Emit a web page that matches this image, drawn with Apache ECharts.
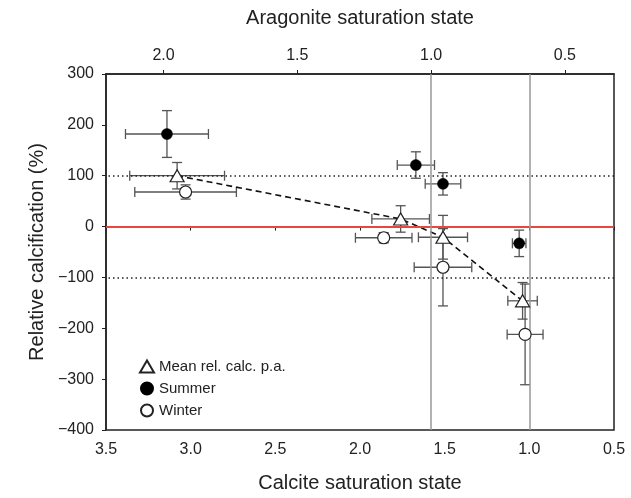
<!DOCTYPE html>
<html>
<head>
<meta charset="utf-8">
<script src="https://cdn.jsdelivr.net/npm/echarts@6/dist/echarts.min.js"></script>
<style>
  html, body { margin: 0; padding: 0; background: #fff; }
  #chart { width: 631px; height: 498px; }
</style>
</head>
<body>
<div id="chart"></div>
<script>
// calcite saturation state (x) and relative calcification % (y), with errors
const meanX    = [3.08, 1.76, 1.51, 1.04];
const meanY    = [100, 15, -21, -146];
const meanXErr = [0.28, 0.17, 0.145, 0.087];
const meanYErr = [26, 26, 43, 36];

const summerX    = [3.14, 1.67, 1.51, 1.06];
const summerY    = [182, 121, 84, -33];
const summerXErr = [0.245, 0.11, 0.105, 0.04];
const summerYErr = [46, 26, 22, 26];

const winterX    = [3.03, 1.86, 1.51, 1.025];
const winterY    = [68, -22, -80, -212];
const winterXErr = [0.30, 0.167, 0.17, 0.106];
const winterYErr = [14, 10, 76, 99];

// calcite / aragonite ratio used for the top axis
const ratio = 1.58;
const aragoniteTicks = [2.0, 1.5, 1.0, 0.5];
const saturationLines = [ratio, 1.0]; // aragonite = 1 and calcite = 1

const FONT = 'Liberation Sans, Arial, Helvetica, sans-serif';
const TXT = '#222';

function pts(xs, ys) { return xs.map((x, i) => [x, ys[i]]); }
function errs(xs, ys, ex, ey) { return xs.map((x, i) => [x, ys[i], ex[i], ey[i]]); }

const errData = errs(meanX, meanY, meanXErr, meanYErr)
  .concat(errs(summerX, summerY, summerXErr, summerYErr))
  .concat(errs(winterX, winterY, winterXErr, winterYErr));

function renderErr(params, api) {
  const x = api.value(0), y = api.value(1), ex = api.value(2), ey = api.value(3);
  const c = api.coord([x, y]);
  const l = api.coord([x + ex, y]);
  const r = api.coord([x - ex, y]);
  const t = api.coord([x, y + ey]);
  const b = api.coord([x, y - ey]);
  const cap = 5;
  const st = { stroke: '#555', lineWidth: 1.3, fill: null };
  const seg = (x1, y1, x2, y2) => ({ type: 'line', shape: { x1, y1, x2, y2 }, style: st });
  return {
    type: 'group',
    children: [
      seg(l[0], c[1], r[0], c[1]),
      seg(l[0], c[1] - cap, l[0], c[1] + cap),
      seg(r[0], c[1] - cap, r[0], c[1] + cap),
      seg(c[0], t[1], c[0], b[1]),
      seg(c[0] - cap, t[1], c[0] + cap, t[1]),
      seg(c[0] - cap, b[1], c[0] + cap, b[1])
    ]
  };
}

const chart = echarts.init(document.getElementById('chart'));
chart.setOption({
  animation: false,
  backgroundColor: '#fff',
  grid: { left: 106, right: 17, top: 74, bottom: 67, show: true, borderColor: '#222', borderWidth: 1.5 },
  legend: {
    data: ['Mean rel. calc. p.a.', 'Summer', 'Winter'],
    orient: 'vertical',
    left: 134, top: 354,
    itemWidth: 14, itemHeight: 12, itemGap: 7,
    textStyle: { fontFamily: FONT, fontSize: 15, color: TXT }
  },
  xAxis: [{
    type: 'value', inverse: true, min: 0.5, max: 3.5, interval: 0.5,
    position: 'bottom',
    name: 'Calcite saturation state', nameLocation: 'middle', nameGap: 43,
    nameTextStyle: { fontFamily: FONT, fontSize: 20, color: TXT },
    axisLine: { lineStyle: { color: '#222', width: 1.5 } },
    axisTick: { show: true, length: 4, lineStyle: { color: '#222' } },
    axisLabel: { fontFamily: FONT, fontSize: 16, color: TXT, margin: 12, formatter: v => v.toFixed(1) },
    splitLine: { show: false }
  }, {
    type: 'value', inverse: true, min: 0.5 / ratio, max: 3.5 / ratio,
    position: 'top',
    name: 'Aragonite saturation state', nameLocation: 'middle', nameGap: 46,
    nameTextStyle: { fontFamily: FONT, fontSize: 20, color: TXT },
    axisLine: { lineStyle: { color: '#222', width: 1.5 } },
    axisTick: { show: true, length: 4, customValues: aragoniteTicks, lineStyle: { color: '#222' } },
    axisLabel: { fontFamily: FONT, fontSize: 16, color: TXT, margin: 10, customValues: aragoniteTicks, formatter: v => v.toFixed(1) },
    splitLine: { show: false }
  }],
  yAxis: {
    type: 'value', min: -400, max: 300, interval: 100,
    name: 'Relative calcification (%)', nameLocation: 'middle', nameGap: 58,
    nameTextStyle: { fontFamily: FONT, fontSize: 20, color: TXT },
    axisLine: { show: true, lineStyle: { color: '#222', width: 1.5 } },
    axisTick: { show: true, length: 4, lineStyle: { color: '#222' } },
    axisLabel: { fontFamily: FONT, fontSize: 16, color: TXT, margin: 12, formatter: v => String(v).replace('-', '\u2212') },
    splitLine: { show: false }
  },
  series: [
    {
      type: 'line', name: 'trend', data: pts(meanX, meanY), symbol: 'none', silent: true, z: 3,
      lineStyle: { color: '#111', width: 1.6, type: [6, 4] },
      markLine: {
        silent: true, symbol: 'none', label: { show: false },
        data: [
          { yAxis: 0, lineStyle: { color: '#e8473e', width: 2, type: 'solid' } },
          { yAxis: 100, lineStyle: { color: '#222', width: 1.5, type: [1.5, 3] } },
          { yAxis: -100, lineStyle: { color: '#222', width: 1.5, type: [1.5, 3] } },
          { xAxis: saturationLines[0], lineStyle: { color: '#999', width: 1.5, type: 'solid' } },
          { xAxis: saturationLines[1], lineStyle: { color: '#999', width: 1.5, type: 'solid' } }
        ]
      }
    },
    {
      type: 'custom', name: 'errors', renderItem: renderErr, data: errData, silent: true, z: 2,
      encode: { x: 0, y: 1 }
    },
    {
      type: 'scatter', name: 'Summer', data: pts(summerX, summerY), symbol: 'circle', symbolSize: 11, z: 5,
      itemStyle: { color: '#000', borderColor: '#000', borderWidth: 0.5, opacity: 1 }
    },
    {
      type: 'scatter', name: 'Winter', data: pts(winterX, winterY), symbol: 'circle', symbolSize: 12, z: 5,
      itemStyle: { color: '#fff', borderColor: '#222', borderWidth: 1.2, opacity: 1 }
    },
    {
      type: 'scatter', name: 'Mean rel. calc. p.a.', data: pts(meanX, meanY), symbol: 'triangle', symbolSize: [14, 12], z: 6,
      itemStyle: { color: '#fff', borderColor: '#222', borderWidth: 1.2, opacity: 1 }
    }
  ]
});
</script>
</body>
</html>
